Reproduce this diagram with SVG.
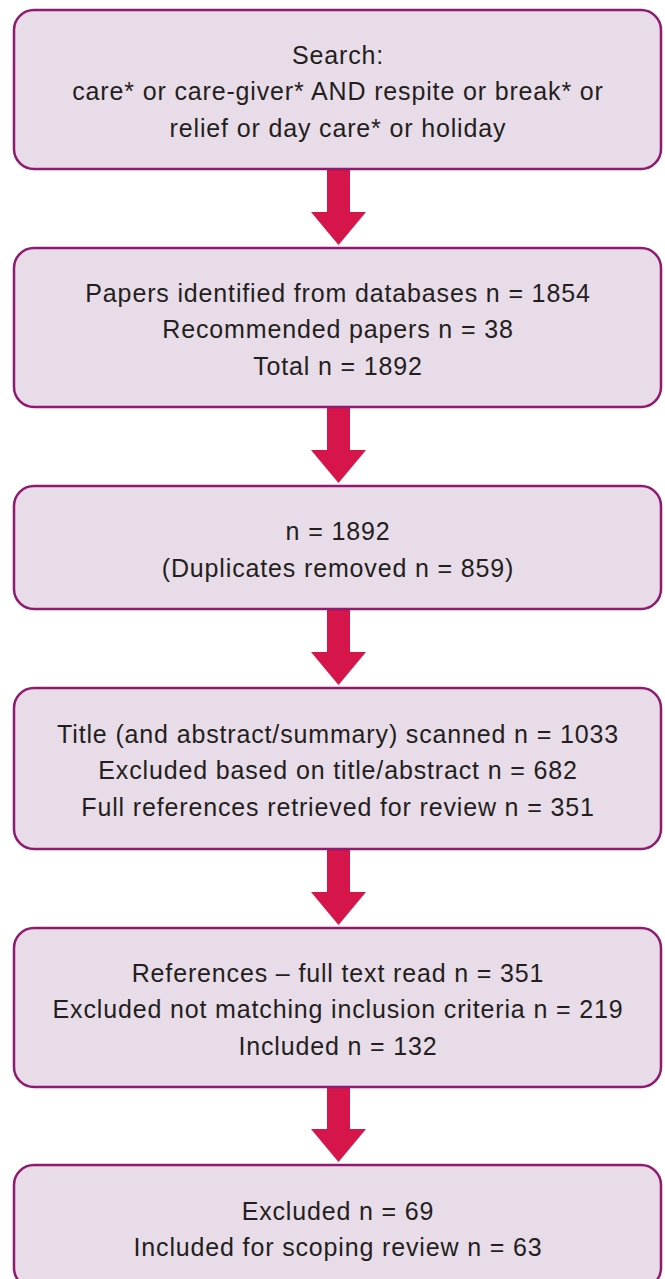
<svg xmlns="http://www.w3.org/2000/svg" width="665" height="1279" viewBox="0 0 665 1279">
<defs>
<style>
.box{fill:#e8dce8;stroke:#8f1a70;stroke-width:2.5}
.t{font-family:"Liberation Sans",Arial,sans-serif;font-size:25px;letter-spacing:0.85px;fill:#231f20;text-anchor:middle}
.arr{fill:#d6154a}
</style>
</defs>
<rect width="665" height="1279" fill="#ffffff"/>
<g id="connectors">
<polygon class="arr" points="327,169 350,169 350,212 366,212 338.5,245 311,212 327,212"/>
<polygon class="arr" points="327,407 350,407 350,450 366,450 338.5,483 311,450 327,450"/>
<polygon class="arr" points="327,609 350,609 350,652 366,652 338.5,685 311,652 327,652"/>
<polygon class="arr" points="327,849 350,849 350,892 366,892 338.5,925 311,892 327,892"/>
<polygon class="arr" points="327,1087 350,1087 350,1129 366,1129 338.5,1162 311,1129 327,1129"/>
</g>
<g id="n1">
<rect class="box" x="14" y="10" width="647" height="159" rx="20"/>
<text class="t" x="338" y="63.5">Search:</text>
<text class="t" x="338" y="100.2">care* or care-giver* AND respite or break* or</text>
<text class="t" x="338" y="136.9">relief or day care* or holiday</text>
</g>
<g id="n2">
<rect class="box" x="14" y="248" width="647" height="159" rx="20"/>
<text class="t" x="338" y="301.5">Papers identified from databases n = 1854</text>
<text class="t" x="338" y="338.2">Recommended papers n = 38</text>
<text class="t" x="338" y="374.9">Total n = 1892</text>
</g>
<g id="n3">
<rect class="box" x="14" y="486" width="647" height="123" rx="20"/>
<text class="t" x="338" y="539.8">n = 1892</text>
<text class="t" x="338" y="576.5">(Duplicates removed n = 859)</text>
</g>
<g id="n4">
<rect class="box" x="14" y="688" width="647" height="161" rx="20"/>
<text class="t" x="338" y="742.5">Title (and abstract/summary) scanned n = 1033</text>
<text class="t" x="338" y="779.2">Excluded based on title/abstract n = 682</text>
<text class="t" x="338" y="815.9">Full references retrieved for review n = 351</text>
</g>
<g id="n5">
<rect class="box" x="14" y="928" width="647" height="159" rx="20"/>
<text class="t" x="338" y="981.5">References – full text read n = 351</text>
<text class="t" x="338" y="1018.2">Excluded not matching inclusion criteria n = 219</text>
<text class="t" x="338" y="1054.9">Included n = 132</text>
</g>
<g id="n6">
<rect class="box" x="14" y="1165" width="647" height="123" rx="20"/>
<text class="t" x="338" y="1219.5">Excluded n = 69</text>
<text class="t" x="338" y="1256.2">Included for scoping review n = 63</text>
</g>
</svg>
